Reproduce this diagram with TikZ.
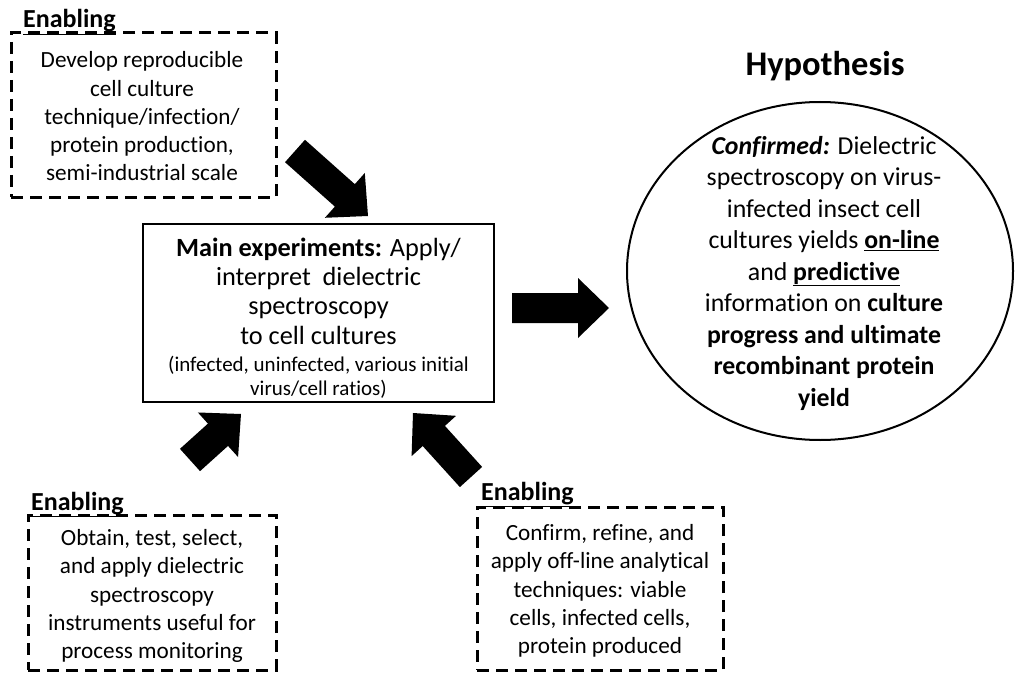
\documentclass[tikz,border=0pt]{standalone}
\usepackage{fontspec}
\setmainfont{Carlito}[Ligatures=NoCommon]
\usetikzlibrary{calc,shapes.geometric}
\newcommand\blockarr[2]{%
  \coordinate (#2-b) at ($(#2)!31pt!(#1)$);
  \fill[black] ($(#1)!15pt!90:(#2)$) -- ($(#2-b)!15pt!90:(#2)$) -- ($(#2-b)!30pt!90:(#2)$) -- (#2)
    -- ($(#2-b)!30pt!-90:(#2)$) -- ($(#2-b)!15pt!-90:(#2)$) -- ($(#1)!15pt!-90:(#2)$) -- cycle;}
\tikzset{
  dashbox/.style={draw, line width=3pt, dash pattern=on 12pt off 7pt, inner sep=0pt},
  bodytext/.style={align=center, inner sep=0pt, font=\fontsize{23.2}{28.25}\selectfont},
  enab/.style={anchor=base west, inner sep=0pt, font=\fontsize{26}{30}\selectfont},
}
\begin{document}
\begin{tikzpicture}[x=1pt,y=-1pt]
\useasboundingbox (0,0) rectangle (1015,674);
% top-left enabling
\node[dashbox, minimum width=265pt, minimum height=164pt] (tl) at (143.5,115) {};
\node[bodytext] (tlT) at (142,116.5) {Develop reproducible\\cell culture\\technique/infection/\\protein production,\\semi-industrial scale};
\node[enab] (tlE) at (23,28) {\underline{\textbf{Enabling}}};
% bottom-left enabling
\node[dashbox, minimum width=248pt, minimum height=155pt] (bl) at (152,592.5) {};
\node[bodytext] (blT) at (152,596) {Obtain, test, select,\\and apply dielectric\\spectroscopy\\instruments useful for\\process monitoring};
\node[enab] (blE) at (31,510) {\underline{\textbf{Enabling}}};
% bottom-right enabling
\node[dashbox, minimum width=246pt, minimum height=163pt] (br) at (600,588.5) {};
\node[bodytext] (brT) at (600,591) {Confirm, refine, and\\apply off-line analytical\\techniques: viable\\cells, infected cells,\\protein produced};
\node[enab] (brE) at (481,500) {\underline{\textbf{Enabling}}};
% main box
\node[draw, line width=2pt, minimum width=351pt, minimum height=178pt, inner sep=0pt] (main) at (318.5,313) {};
\node[align=center, inner sep=0pt, font=\fontsize{26.3}{29.3}\selectfont] (mainT) at (318.5,291)
  {\textbf{Main experiments:} Apply/\\interpret\ \ dielectric\\spectroscopy\\to cell cultures};
\node[align=center, inner sep=0pt, font=\fontsize{21}{24}\selectfont] (mainS) at (318.5,377)
  {(infected, uninfected, various initial\\virus/cell ratios)};
% hypothesis
\node[inner sep=0pt, font=\fontsize{34.5}{40}\selectfont\bfseries] (hypT) at (825,66) {Hypothesis};
\node[draw, ellipse, line width=2pt, minimum width=386pt, minimum height=338pt, inner sep=0pt] (hyp) at (820,271) {};
\node[align=center, inner sep=0pt, font=\fontsize{25.8}{31.5}\selectfont] (hypS) at (824,273)
  {\textbf{\textit{Confirmed:}} Dielectric\\spectroscopy on virus-\\infected insect cell\\cultures yields \underline{\textbf{on-line}}\\and \underline{\textbf{predictive}}\\information on \textbf{culture}\\\textbf{progress and ultimate}\\\textbf{recombinant protein}\\\textbf{yield}};
% block arrows
\coordinate (a1s) at (295,151); \coordinate (a1e) at (368,216);
\coordinate (a2s) at (512,308); \coordinate (a2e) at (609,308);
\coordinate (a3s) at (190,460); \coordinate (a3e) at (241,414);
\coordinate (a4s) at (471,477); \coordinate (a4e) at (413,413);
\blockarr{a1s}{a1e}
\blockarr{a2s}{a2e}
\blockarr{a3s}{a3e}
\blockarr{a4s}{a4e}
\end{tikzpicture}
\end{document}
